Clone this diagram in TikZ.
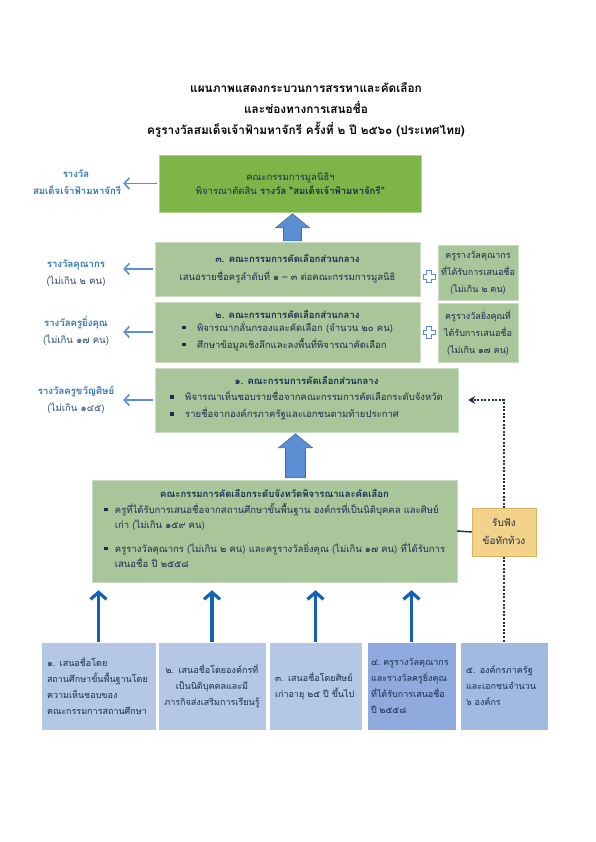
\documentclass[tikz,border=0pt]{standalone}
\usepackage{fontspec}
\setmainfont[Script=Thai]{Loma}
\usetikzlibrary{arrows.meta,calc,positioning}
\definecolor{leafgreen}{HTML}{7DB548}
\definecolor{sagegreen}{HTML}{A8C69A}
\definecolor{sageline}{HTML}{C9DBC0}
\definecolor{inkblue}{HTML}{1A2C50}
\definecolor{slateblue}{HTML}{2F4A7A}
\definecolor{awardblue}{HTML}{2E75B6}
\definecolor{paleblue}{HTML}{5B8FD3}
\definecolor{deepblue}{HTML}{1162B8}
\definecolor{nomblue}{HTML}{B4C7E7}
\definecolor{nomdark}{HTML}{8FAADC}
\definecolor{nommid}{HTML}{A2B9E0}
\definecolor{noteyellow}{HTML}{F3D28A}
\definecolor{noteline}{HTML}{D8B25E}
\newcommand{\sqb}{\rule[2pt]{3.8pt}{3.8pt}}

\begin{document}
\begin{tikzpicture}[x=1pt, y=-1pt,
		every node/.style={inner sep=0pt, text=inkblue, font=\fontsize{9.5}{17}\selectfont},
		panel/.style={draw=sageline, fill=sagegreen, align=center},
		award/.style={text=awardblue, text width=86pt, align=center, font=\fontsize{9.6}{17}\selectfont},
		nombox/.style={draw=white, line width=0.8pt, fill=nomblue, minimum height=88pt, inner xsep=6pt, font=\fontsize{9}{16}\selectfont},
		blockarr/.style={fill=paleblue, draw=paleblue!75!black, line width=0.6pt},
		sidearr/.style={draw=paleblue, line width=1.6pt, shorten <=2pt, shorten >=4pt, -{Straight Barb[length=5pt,width=11pt]}},
		uparr/.style={draw=deepblue, line width=3.2pt, shorten >=8pt, -{Straight Barb[length=7pt,width=16pt]}},
		dotarr/.style={draw=inkblue, line width=2pt, dash pattern=on 2pt off 1.6pt, shorten >=10pt, -{Stealth[length=7pt,width=8pt]}},
		plusmark/.pic={\draw[paleblue, fill=white, line width=0.9pt] (-2.2,-6) -- (2.2,-6) -- (2.2,-2.2) -- (6,-2.2) -- (6,2.2) -- (2.2,2.2) -- (2.2,6) -- (-2.2,6) -- (-2.2,2.2) -- (-6,2.2) -- (-6,-2.2) -- (-2.2,-2.2) -- cycle;}
		]
		\useasboundingbox (0,0) rectangle (596,842);
		
		% Title
		\node[text=black, align=center, font=\bfseries\fontsize{11.8}{21}\selectfont] (title) at (306,110) {แผนภาพแสดงกระบวนการสรรหาและคัดเลือก\\และช่องทางการเสนอชื่อ\\ครูรางวัลสมเด็จเจ้าฟ้ามหาจักรี ครั้งที่ ๒ ปี ๒๕๖๐ (ประเทศไทย)};
		
		% Committees
		\node[panel, fill=leafgreen, draw=leafgreen!60!white, minimum width=262pt, minimum height=57pt, font=\fontsize{9.5}{14}\selectfont] (founda) at (290.5,183.5) {คณะกรรมการมูลนิธิฯ\\พิจารณาตัดสิน \textbf{รางวัล “สมเด็จเจ้าฟ้ามหาจักรี”}};
		\node[panel, minimum width=265pt, minimum height=54pt, font=\fontsize{9.5}{18}\selectfont] (comm3) at (287.5,269) {\textbf{๓. คณะกรรมการคัดเลือกส่วนกลาง}\\เสนอรายชื่อครูลำดับที่ ๑ – ๓ ต่อคณะกรรมการมูลนิธิ};
		\node[panel, minimum width=265pt, minimum height=60pt] (comm2) at (287.5,332) {\textbf{๒. คณะกรรมการคัดเลือกส่วนกลาง}\\
			\begin{tabular}{@{}p{15pt}@{}l@{}}\sqb & พิจารณากลั่นกรองและคัดเลือก (จำนวน ๒๐ คน)\\ \sqb & ศึกษาข้อมูลเชิงลึกและลงพื้นที่พิจารณาคัดเลือก\end{tabular}};
		\node[panel, minimum width=303pt, minimum height=64pt] (comm1) at (306.5,400) {\textbf{๑. คณะกรรมการคัดเลือกส่วนกลาง}\\[3pt]
			\begin{tabular}{@{}p{15pt}@{}l@{}}\sqb & พิจารณาเห็นชอบรายชื่อจากคณะกรรมการคัดเลือกระดับจังหวัด\\ \sqb & รายชื่อจากองค์กรภาครัฐและเอกชนตามท้ายประกาศ\end{tabular}};
		\node[panel, minimum width=365pt, minimum height=102pt, font=\fontsize{9.5}{15.5}\selectfont] (prov) at (274.5,531) {\textbf{คณะกรรมการคัดเลือกระดับจังหวัดพิจารณาและคัดเลือก}\\[4pt]
			\begin{tabular}{@{}p{11pt}@{}l@{}}\sqb & ครูที่ได้รับการเสนอชื่อจากสถานศึกษาขั้นพื้นฐาน องค์กรที่เป็นนิติบุคคล และศิษย์\\ & เก่า (ไม่เกิน ๑๕๙ คน)\\[8pt]
			\sqb & ครูรางวัลคุณากร (ไม่เกิน ๒ คน) และครูรางวัลยิ่งคุณ (ไม่เกิน ๑๗ คน) ที่ได้รับการ\\ & เสนอชื่อ ปี ๒๕๕๘\end{tabular}};
		
		% Nominated teachers
		\node[panel, minimum width=80pt, minimum height=55pt, font=\fontsize{9}{17}\selectfont] (side3) at (478,272.5) {ครูรางวัลคุณากร\\ที่ได้รับการเสนอชื่อ\\(ไม่เกิน ๒ คน)};
		\node[panel, minimum width=80pt, minimum height=59pt, font=\fontsize{9}{17}\selectfont] (side2) at (478,332.5) {ครูรางวัลยิ่งคุณที่\\ได้รับการเสนอชื่อ\\(ไม่เกิน ๑๗ คน)};
		\pic at ($(comm3.east)!0.5!(side3.west)+(0,6)$) {plusmark};
		\pic at ($(comm2.east)!0.5!(side2.west)$) {plusmark};
		
		% Awards
		\node[award] (awardA) at (76,182) {\textbf{รางวัล}\\\textbf{สมเด็จเจ้าฟ้ามหาจักรี}};
		\node[award] (awardB) at (76,273) {\textbf{รางวัลคุณากร}\\\textcolor{slateblue}{(ไม่เกิน ๒ คน)}};
		\node[award] (awardC) at (76,331) {\textbf{รางวัลครูยิ่งคุณ}\\\textcolor{slateblue}{(ไม่เกิน ๑๗ คน)}};
		\node[award] (awardD) at (76,400) {\textbf{รางวัลครูขวัญศิษย์}\\\textcolor{slateblue}{(ไม่เกิน ๑๔๕)}};
		
		% Nomination channels
		\node[nombox, minimum width=115pt, text width=103pt, align=left] (nomA) at (98.5,686) {๑. เสนอชื่อโดย\\สถานศึกษาขั้นพื้นฐานโดย\\ความเห็นชอบของ\\คณะกรรมการสถานศึกษา};
		\node[nombox, minimum width=108pt, text width=96pt, align=center] (nomB) at (212,686) {๒. เสนอชื่อโดยองค์กรที่\\เป็นนิติบุคคลและมี\\ภารกิจส่งเสริมการเรียนรู้};
		\node[nombox, minimum width=93pt, text width=81pt, align=left] (nomC) at (315.5,686) {๓. เสนอชื่อโดยศิษย์\\เก่าอายุ ๒๕ ปี ขึ้นไป};
		\node[nombox, fill=nomdark, inner xsep=4pt, minimum width=89pt, text width=81pt, align=left] (nomD) at (411.5,686) {๔.~ครูรางวัลคุณากร\\และรางวัลครูยิ่งคุณ\\ที่ได้รับการเสนอชื่อ\\ปี ๒๕๕๘};
		\node[nombox, fill=nommid, minimum width=88pt, text width=76pt, align=left] (nomE) at (504,686) {๕. องค์กรภาครัฐ\\และเอกชนจำนวน\\๖ องค์กร};
		
		% Arrows
		\draw[blockarr] ($(comm3.north)+(-4,-1)$) -- ++(0,-13) -- ++(-8,0) -- ++(17,-14) -- ++(17,14) -- ++(-8,0) -- ++(0,13) -- cycle;
		\draw[blockarr] ($(prov.north)+(11,-2)$) -- ++(0,-30) -- ++(-7,0) -- ++(17,-14) -- ++(17,14) -- ++(-7,0) -- ++(0,30) -- cycle;
		\draw[sidearr] (founda.west) -- (founda.west -| awardA.east);
		\draw[sidearr] (comm3.west) -- (comm3.west -| awardB.east);
		\draw[sidearr] (comm2.west) -- (comm2.west -| awardC.east);
		\draw[sidearr] (comm1.west) -- (comm1.west -| awardD.east);
		\foreach \n in {nomA,nomB,nomC,nomD}
			\draw[uparr] (\n.north) -- (\n.north |- prov.south);
		\draw[dotarr] (nomE.north) |- (comm1.east);
		
		% Objections
		\node[draw=noteline, fill=noteyellow, minimum width=64pt, minimum height=48pt, align=center, font=\fontsize{10}{18}\selectfont] (objection) at (504,532) {รับฟัง\\ข้อทักท้วง};
		\draw[inkblue, line width=1.4pt] (prov.east) -- (objection.west);
	\end{tikzpicture}
\end{document}
